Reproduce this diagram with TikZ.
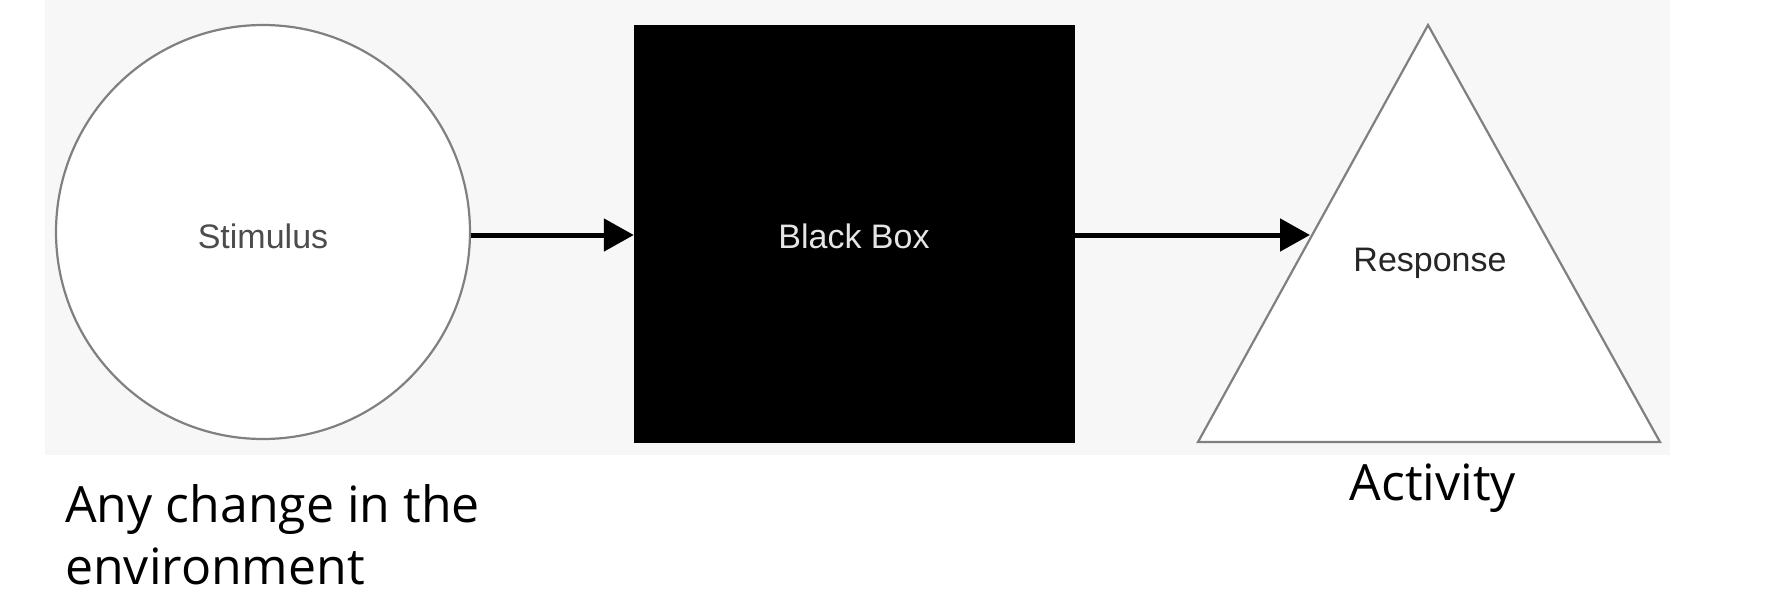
\documentclass[tikz,border=0pt]{standalone}
\usepackage{fontspec}
\setmainfont{Liberation Sans}
\newfontfamily\capfont{Open Sans}
\usetikzlibrary{arrows.meta}
\begin{document}
\begin{tikzpicture}[x=1pt,y=-1pt,
  shapeline/.style={draw=black!50,line width=2.2pt},
  conn/.style={line width=5pt,-{Triangle[length=30pt,width=32pt]}},
  inner/.style={font=\fontsize{34}{40}\selectfont},
  caption/.style={font=\capfont\fontsize{50}{62}\selectfont,anchor=base west,inner sep=0pt}]
\useasboundingbox (0,0) rectangle (1776,600);
\fill[white] (0,0) rectangle (1776,600);
\fill[black!3] (45,0) rectangle (1670,455);
\node[circle,shapeline,fill=white,minimum size=414pt,inner sep=0pt] (stim) at (263,232) {};
\node[inner,text=black!70] at (263,236) {Stimulus};
\node[draw=black,fill=black,minimum width=440pt,minimum height=417pt,inner sep=0pt] (box) at (854,233.5) {};
\node[inner,text=white!90!black] at (854,236) {Black Box};
\coordinate (apex) at (1428,25);
\coordinate (bl) at (1198,442);
\coordinate (br) at (1660,442);
\draw[shapeline,fill=white,line join=miter] (apex) -- (bl) -- (br) -- cycle;
\coordinate (tin) at (1310,235);
\node[inner,text=black!85] at (1430,263) {Response};
\draw[conn] (stim.east |- 0,235) -- (box.west |- 0,235);
\draw[conn] (box.east |- 0,235) -- (tin);
\node[caption] at (65,522) {Any change in the};
\node[caption] at (65,584) {environment};
\node[caption,anchor=base] at (1433,500) {Activity};
\end{tikzpicture}
\end{document}
